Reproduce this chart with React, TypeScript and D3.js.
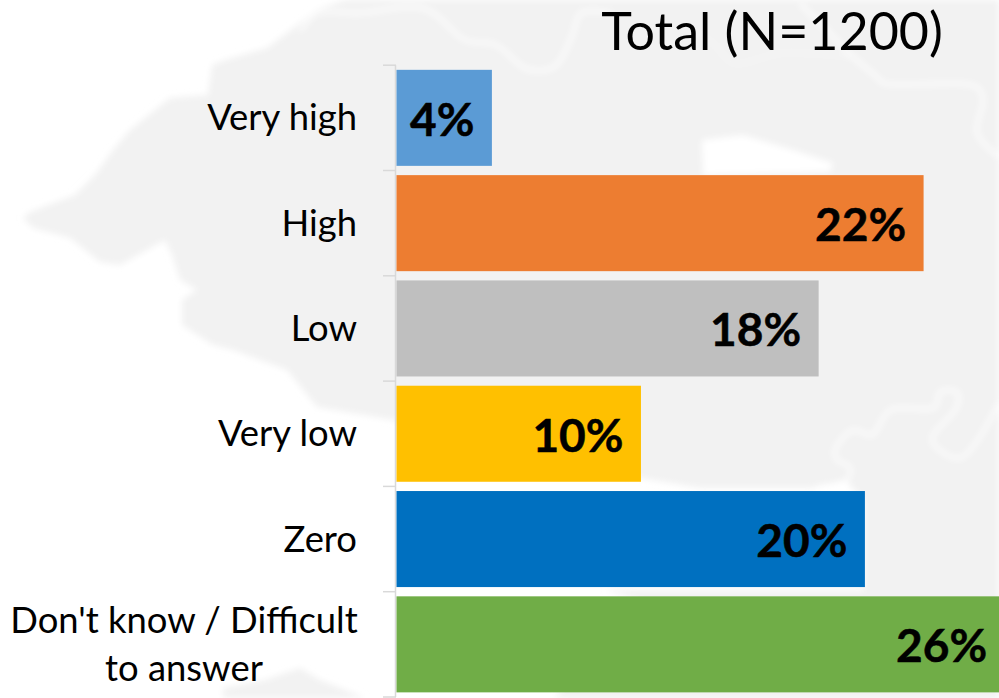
import React from "react";
import * as d3 from "d3";

const categories = ["Very high", "High", "Low", "Very low", "Zero", "Don't know / Difficult to answer"];
const values = [4.0, 22.1, 17.7, 10.25, 19.64, 25.5];
const barColors = ["#5b9bd5", "#ed7d31", "#bfbfbf", "#ffc000", "#0070c0", "#70ad47"];
const titleText = "Total (N=1200)";

const mapOutline: [number, number][] = [
  [345, 0], [317, 10], [267, 48], [225, 60], [212, 65], [208, 95], [170, 98], [130, 130], [113, 150], [95, 175],
  [75, 195], [30, 212], [23, 218], [33, 228], [70, 238], [100, 262], [120, 265], [165, 240], [172, 255], [180, 280],
  [197, 290], [182, 300], [182, 325], [213, 345], [233, 350], [287, 370], [317, 407], [393, 420], [500, 440],
  [640, 478], [700, 488], [812, 488], [845, 480], [864, 500], [864, 590], [605, 590], [640, 600], [560, 692],
  [555, 698], [999, 698], [999, 0],
];
const mapBlob: [number, number][] = [[223, 698], [223, 688], [265, 680], [300, 668], [320, 680], [350, 692], [365, 698]];
const whitePatch: [number, number][] = [[702, 140], [743, 135], [793, 150], [833, 163], [830, 172], [703, 175]];
const riverA: [number, number][] = [[300, 31], [318, 13], [358, 13], [425, 9], [465, 40], [496, 45], [527, 69], [554, 67], [572, 36], [581, 13], [612, 13]];
const riverB: [number, number][] = [[800, 4], [820, 23], [853, 57], [877, 77], [883, 83], [977, 87], [983, 100], [977, 133], [999, 157]];
const riverC: [number, number][] = [[817, 487], [847, 480], [850, 467], [837, 460], [835, 450], [853, 430], [872, 435], [890, 410], [935, 407], [940, 392], [957, 392], [957, 407], [932, 440], [960, 458], [999, 403]];
const riverD: [number, number][] = [[680, 25], [713, 43], [733, 63], [783, 53], [853, 57]];
const rivers = [riverA, riverB, riverC, riverD];

const FONT = "Lato, Carlito, Calibri, sans-serif";

export default function App() {
  const x = d3.scaleLinear().domain([0, 30]).range([396.5, 1112]);
  const y = d3.scaleBand<string>().domain(categories).range([65.2, 697]).paddingInner(0.088).paddingOuter(0.044);
  const step = y.step();
  const tickYs = d3.range(categories.length + 1).map((i) => 65.2 + i * step);
  const line = d3.line();
  const smooth = d3.line().curve(d3.curveCatmullRom);
  const fmt = d3.format(".0f");
  const labelX = 357;

  return (
    <svg width={999} height={698} style={{ position: "absolute", left: 0, top: 0, background: "#fff" }} fontFamily={FONT}>
      <defs>
        <filter id="soft" x="-5%" y="-5%" width="110%" height="110%">
          <feGaussianBlur stdDeviation="3" />
        </filter>
      </defs>
      <g filter="url(#soft)">
        <path d={line(mapOutline)! + "Z"} fill="#f2f2f2" />
        <path d={line(mapBlob)! + "Z"} fill="#f2f2f2" />
        <path d={line(whitePatch)! + "Z"} fill="#fff" />
        {rivers.map((r, i) => (
          <path key={i} d={smooth(r)!} fill="none" stroke="#fff" strokeOpacity={i === 3 ? 0.4 : 0.8} strokeWidth={i === 3 ? 2.5 : 3.5} />
        ))}
      </g>

      <line x1={395.5} x2={395.5} y1={tickYs[0]} y2={697} stroke="#d9d9d9" strokeWidth={1.5} />
      {tickYs.map((t, i) => (
        <line key={i} x1={383} x2={396} y1={t} y2={t} stroke="#d9d9d9" strokeWidth={1.5} />
      ))}

      {categories.map((c, i) => (
        <rect key={c} x={x(0)} y={y(c)!} width={x(values[i]) - x(0)} height={y.bandwidth()} fill={barColors[i]} />
      ))}

      {categories.map((c, i) => {
        const cy = y(c)! + y.bandwidth() / 2;
        if (i === categories.length - 1) {
          return (
            <text key={c} fontSize={36.4} fill="#000" textAnchor="middle">
              <tspan x={184} y={632.5}>Don't know / Difficult</tspan>
              <tspan x={184} y={680.5}>to answer</tspan>
            </text>
          );
        }
        return (
          <text key={c} x={labelX} y={cy + 12.5} fontSize={36.4} fill="#000" textAnchor="end">{c}</text>
        );
      })}

      {categories.map((c, i) => (
        <text key={c} x={x(values[i]) - 17.5} y={y(c)! + y.bandwidth() / 2 + 18} fontSize={46} fontWeight={700} fill="#000" stroke="#000" strokeWidth={0.5} textAnchor="end">
          {fmt(values[i])}%
        </text>
      ))}

      <text x={772} y={50} fontSize={52} fill="#000" textAnchor="middle">{titleText}</text>
    </svg>
  );
}
